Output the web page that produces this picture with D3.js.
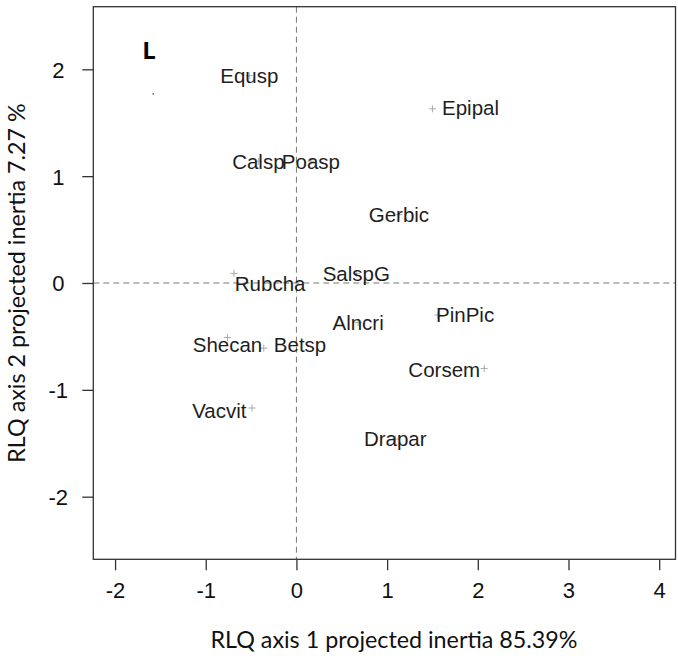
<!DOCTYPE html>
<html>
<head>
<meta charset="utf-8">
<script src="https://cdn.jsdelivr.net/npm/d3@7"></script>
<style>
  body { margin: 0; background: #fff; }
  svg { display: block; }
</style>
</head>
<body>
<svg id="rlq" width="678" height="658"></svg>
<script>
// species scores on the two RLQ axes
const species = ["Equsp","Calsp","Poasp","Epipal","Gerbic","SalspG","Rubcha","Alncri","PinPic","Shecan","Betsp","Corsem","Vacvit","Drapar",""];
const axis1 = [-0.52,-0.42,0.16,1.50,1.13,0.66,-0.69,0.68,1.56,-0.76,-0.36,2.07,-0.49,1.09,-1.58];
const axis2 = [1.94,1.14,1.14,1.63,0.64,0.09,0.09,-0.37,-0.30,-0.51,-0.61,-0.80,-1.17,-1.46,1.77];
// where each name sits (centre of the word, in axis units)
const labelAxis1 = [-0.52,-0.42,0.16,1.92,1.13,0.66,-0.29,0.68,1.86,-0.76,0.04,1.63,-0.85,1.09,-1.58];
const labelAxis2 = [1.94,1.14,1.14,1.64,0.64,0.09,-0.01,-0.37,-0.30,-0.58,-0.58,-0.81,-1.19,-1.46,1.77];

const xTicks = [-2,-1,0,1,2,3,4];
const yTicks = [-2,-1,0,1,2];
const xTitle = "RLQ axis 1 projected inertia 85.39%";
const yTitle = "RLQ axis 2 projected inertia 7.27 %";
const panelTag = "L";

const drawRLQ = (svg_name) => {
	let chart = d3.select(svg_name);
	let box = {left:93.3, right:675.5, top:6.7, bottom:559.3};

	let x = d3.scaleLinear()
						.domain([-2.24, 4.18])
						.range([box.left, box.right]);
	let y = d3.scaleLinear()
						.domain([-2.586, 2.586])
						.range([box.bottom, box.top]);

	addZeroLines(chart, x, y, box);
	addPoints(chart, x, y);
	addLabels(chart, x, y);
	addAxes(chart, x, y, box);
	addTitles(chart, box);
}

const addZeroLines = (chart, x, y, box) => {
	chart.append("line")
				.attr("x1", box.left).attr("x2", box.right)
				.attr("y1", y(0)).attr("y2", y(0))
				.style("stroke", "#777")
				.style("stroke-dasharray", "6,4");
	chart.append("line")
				.attr("x1", x(0)).attr("x2", x(0))
				.attr("y1", box.top).attr("y2", box.bottom)
				.style("stroke", "#777")
				.style("stroke-dasharray", "6,4");
}

const addPoints = (chart, x, y) => {
	let pts = species.map((s, i) => ({name: s, a1: axis1[i], a2: axis2[i]}));
	let g = chart.append("g").attr("class", "points");
	// unlabelled stray point is only a speck
	g.selectAll("circle")
		.data(pts.filter((d) => d.name === ""))
		.enter().append("circle")
		.attr("cx", (d) => x(d.a1))
		.attr("cy", (d) => y(d.a2))
		.attr("r", 0.8)
		.style("fill", "#555");
	g.selectAll("path")
		.data(pts.filter((d) => d.name !== ""))
		.enter().append("path")
		.attr("d", (d) => {
			let cx = x(d.a1), cy = y(d.a2);
			return `M${cx-3.5},${cy}H${cx+3.5}M${cx},${cy-3.5}V${cy+3.5}`;
		})
		.style("stroke", "#aaa")
		.style("stroke-width", 1);
}

const addLabels = (chart, x, y) => {
	let labs = species.map((s, i) => ({name: s, a1: labelAxis1[i], a2: labelAxis2[i]}))
										.filter((d) => d.name !== "");
	chart.append("g")
				.selectAll("text")
				.data(labs)
				.enter().append("text")
				.attr("x", (d) => x(d.a1))
				.attr("y", (d) => y(d.a2))
				.attr("dy", "0.36em")
				.style("text-anchor", "middle")
				.style("font-family", "'Liberation Sans', Arial, sans-serif")
				.style("font-size", "20.5px")
				.style("fill", "#1e1e1e")
				.text((d) => d.name);
}

const addAxes = (chart, x, y, box) => {
	chart.append("rect")
				.attr("x", box.left)
				.attr("y", box.top)
				.attr("width", box.right - box.left)
				.attr("height", box.bottom - box.top)
				.style("fill", "none")
				.style("stroke", "#333")
				.style("stroke-width", 1.3);

	let x_axis = d3.axisBottom(x).tickValues(xTicks).tickFormat((d) => String(d)).tickSize(11).tickSizeOuter(0);
	let gx = chart.append("g")
				.attr("class", "x axis")
				.attr("transform", `translate(0,${box.bottom})`)
				.call(x_axis);
	let y_axis = d3.axisLeft(y).tickValues(yTicks).tickFormat((d) => String(d)).tickSize(11).tickSizeOuter(0);
	let gy = chart.append("g")
				.attr("class", "y axis")
				.attr("transform", `translate(${box.left},0)`)
				.call(y_axis);

	[gx, gy].forEach((g) => {
		g.select(".domain").remove();
		g.selectAll("line").style("stroke", "#333").style("stroke-width", 1.3);
		g.selectAll("text")
			.style("font-family", "'Liberation Sans', Arial, sans-serif")
			.style("font-size", "22px")
			.style("fill", "#111");
	});
	gx.selectAll("text").attr("y", 23).attr("dy", "0.71em");
	gy.selectAll("text")
		.attr("x", -35)
		.attr("dy", "0.36em")
		.style("text-anchor", "middle");
}

const addTitles = (chart, box) => {
	chart.append("text")
				.attr("x", 394)
				.attr("y", 648)
				.style("text-anchor", "middle")
				.style("font-family", "Lato, 'Open Sans', sans-serif")
				.style("font-size", "23.3px")
				.style("fill", "#111")
				.text(xTitle);
	chart.append("text")
				.attr("transform", "rotate(-90)")
				.attr("x", -283)
				.attr("y", 25)
				.style("text-anchor", "middle")
				.style("font-family", "Lato, 'Open Sans', sans-serif")
				.style("font-size", "23.3px")
				.style("fill", "#111")
				.text(yTitle);
	chart.append("text")
				.attr("x", 149)
				.attr("y", 59)
				.style("text-anchor", "middle")
				.style("font-family", "'Open Sans', sans-serif")
				.style("font-weight", "bold")
				.style("font-size", "24px")
				.style("fill", "#000")
				.text(panelTag);
}

drawRLQ("#rlq");
</script>
</body>
</html>
